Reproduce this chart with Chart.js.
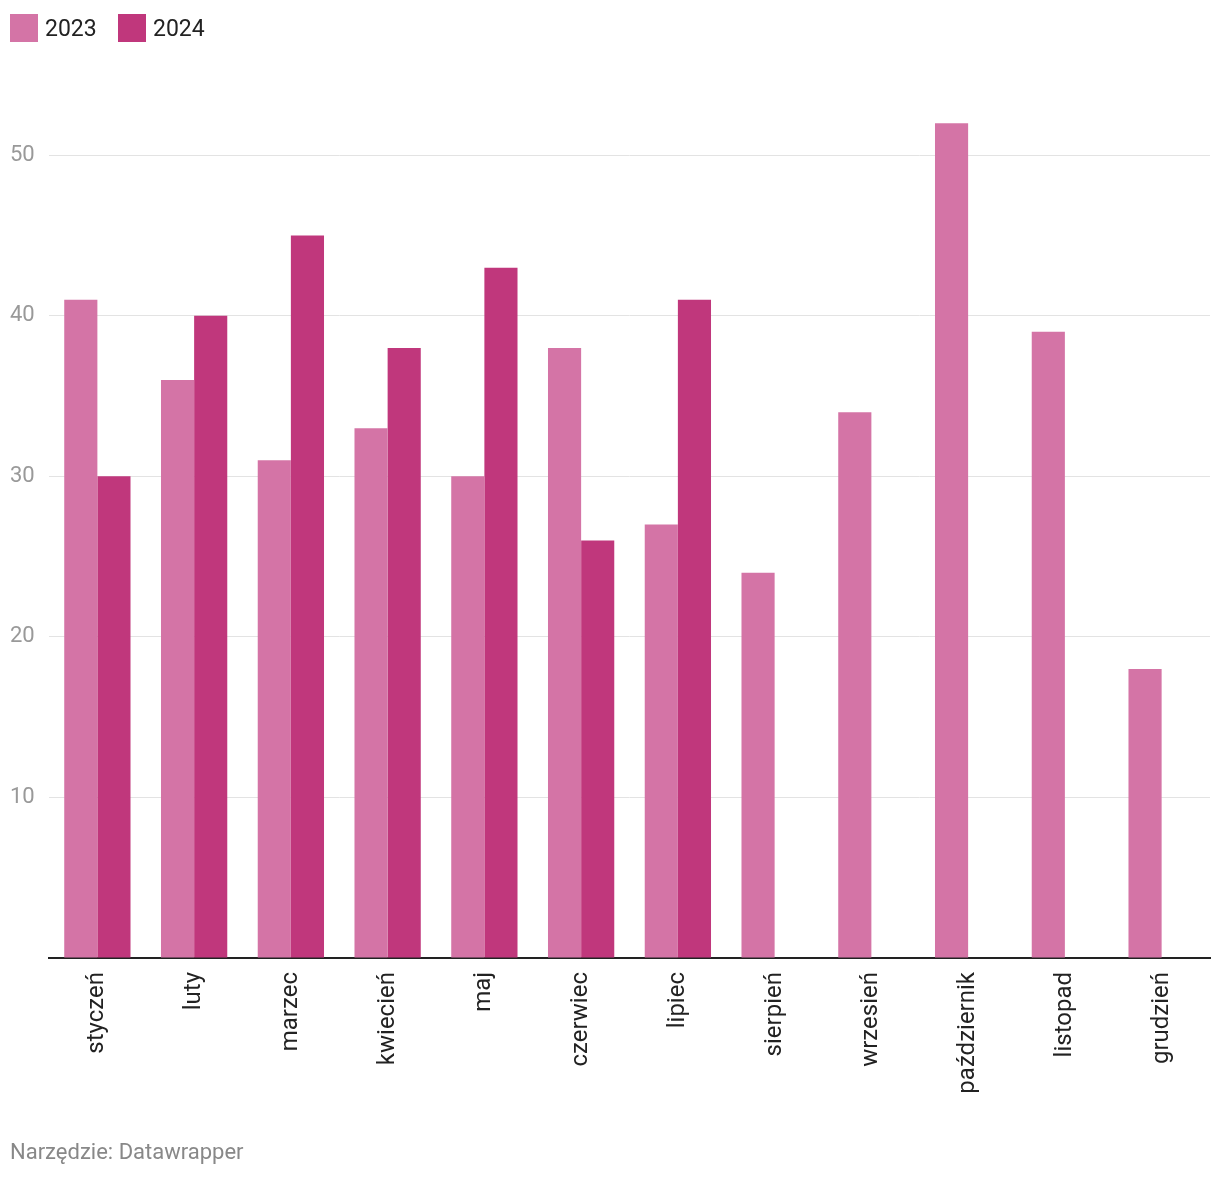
<!DOCTYPE html>
<html><head><meta charset="utf-8">
<script src="https://cdn.jsdelivr.net/npm/chart.js@4"></script>
<style>
html,body{margin:0;padding:0;background:#fff;font-family:Roboto,sans-serif;}
#wrap{position:absolute;left:0;top:0;width:1220px;height:1178px;}
.leg{position:absolute;top:14px;height:28px;display:flex;align-items:center;font-size:23px;color:#222;}
.sw{width:28px;height:28px;margin-right:7px;}
#foot{position:absolute;left:10px;top:1139px;font-size:22px;color:#888;}
</style></head><body>
<div id="wrap"><canvas id="c" width="1220" height="1178"></canvas></div>
<div class="leg" style="left:10px"><div class="sw" style="background:#d474a6"></div>2023</div>
<div class="leg" style="left:118px"><div class="sw" style="background:#c0377c"></div>2024</div>
<div id="foot">Narzędzie: Datawrapper</div>
<script>
const categories = ["styczeń","luty","marzec","kwiecień","maj","czerwiec","lipiec","sierpień","wrzesień","październik","listopad","grudzień"];
const series2023 = [41,36,31,33,30,38,27,24,34,52,39,18];
const series2024 = [30,40,45,38,43,26,41,null,null,null,null,null];
const yTicks = [0,10,20,30,40,50];

new Chart(document.getElementById('c'), {
  type: 'bar',
  data: {
    labels: categories,
    datasets: [
      {label:'2023', data: series2023, backgroundColor:'#d474a6', barPercentage:1, categoryPercentage:0.685},
      {label:'2024', data: series2024, backgroundColor:'#c0377c', barPercentage:1, categoryPercentage:0.685}
    ]
  },
  options: {
    responsive:false, animation:false,
    layout:{padding:{left:10,right:10,top:75,bottom:0}},
    plugins:{legend:{display:false}, tooltip:{enabled:false}},
    scales:{
      x:{
        grid:{display:false, drawTicks:false},
        border:{color:'#222', width:2},
        ticks:{maxRotation:90, minRotation:90, padding:14, color:'#222', font:{family:'Roboto', size:24}},
        afterFit:s=>{s.height=220;}
      },
      y:{
        min:0, max:55,
        afterBuildTicks:s=>{s.ticks = yTicks.map(v=>({value:v}));},
        grid:{color:'#e3e3e3', drawTicks:false},
        border:{display:false},
        ticks:{crossAlign:'far', padding:0, color:'#999', font:{family:'Roboto', size:22},
          callback:v=> v===0 ? '' : v},
        afterFit:s=>{s.width=39;}
      }
    }
  }
});
</script>
</body></html>
